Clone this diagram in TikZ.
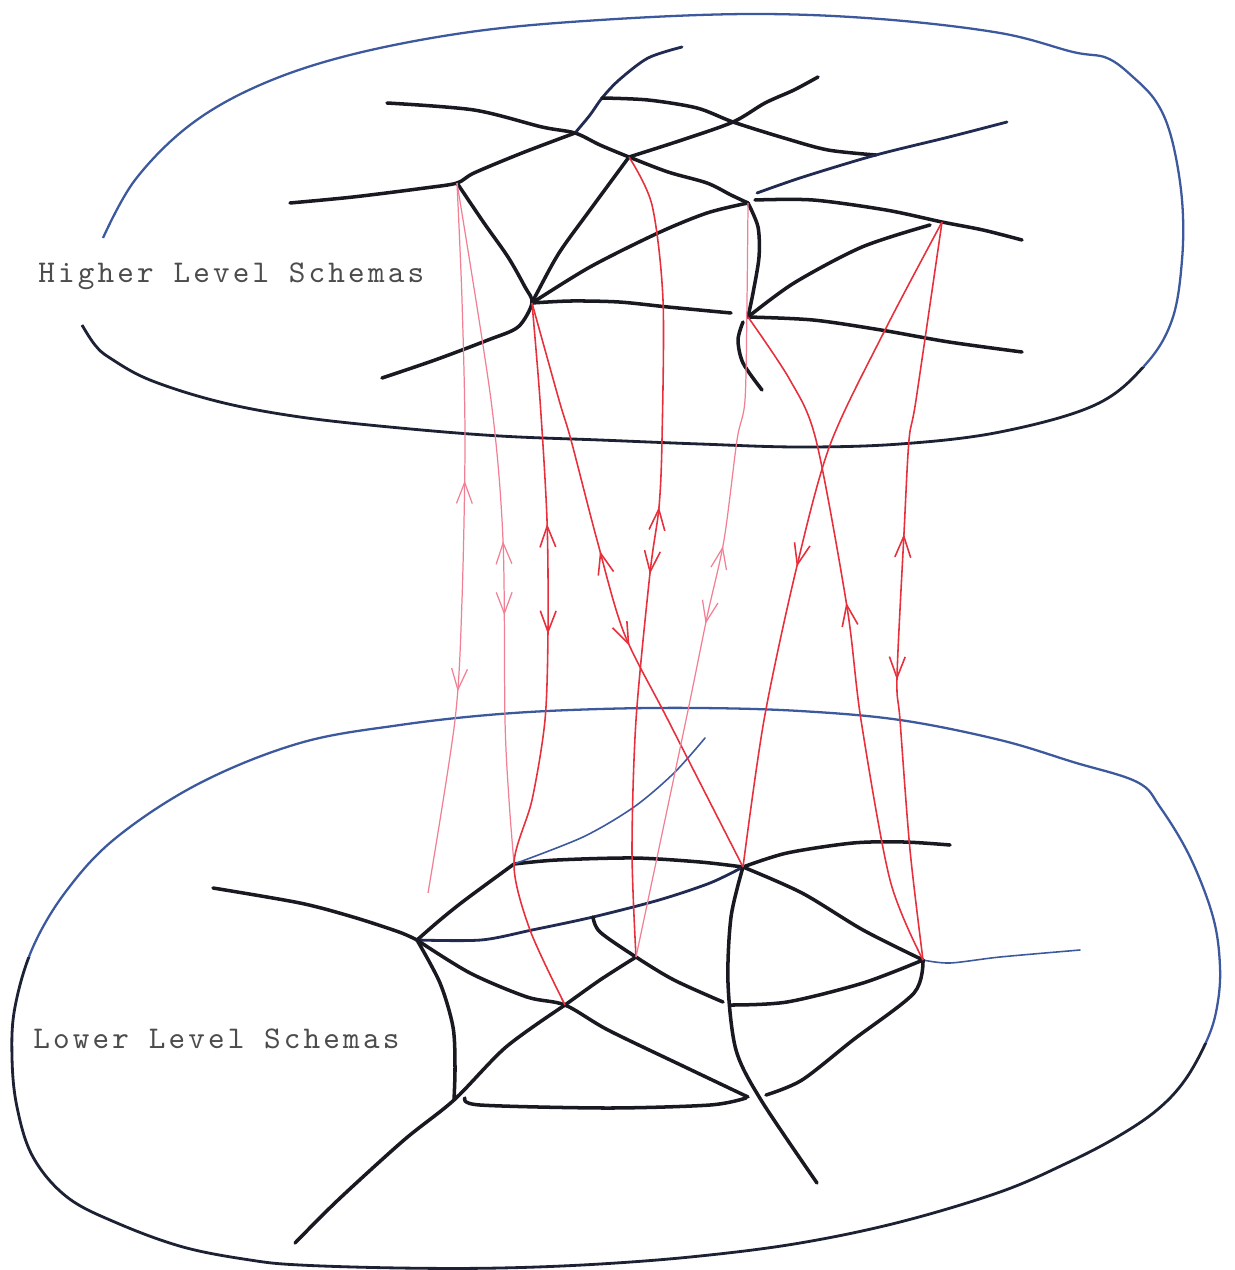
\documentclass[tikz,border=0pt]{standalone}
\usepackage{fontspec}
\newfontfamily\schemafont{lmmono10-regular.otf}[LetterSpace=10]
\usepackage{tkz-euclide}
\usetikzlibrary{arrows.meta,decorations.markings}
\definecolor{InkClr}{rgb}{0.1,0.1,0.13}
\definecolor{InkBlue}{rgb}{0.13,0.17,0.32}
\definecolor{RimClr}{rgb}{0.24,0.35,0.62}
\definecolor{RimDark}{rgb}{0.11,0.13,0.2}
\definecolor{LinkClr}{rgb}{0.91,0.19,0.24}
\definecolor{PaleClr}{rgb}{0.95,0.5,0.58}
\definecolor{TextClr}{rgb}{0.3,0.3,0.3}
\tikzset{
  ink/.style={line width=2pt,color=InkClr,line cap=round,line join=round},
  inkblue/.style={ink,color=InkBlue,line width=1.6pt},
  thinblue/.style={line width=.9pt,color=RimClr,line cap=round},
  rim/.style={line width=1.3pt,color=RimClr},
  rimdark/.style={line width=1.6pt,color=RimDark},
  link/.style={line width=.9pt,color=LinkClr},
  palelink/.style={line width=.7pt,color=PaleClr},
  barb/.tip={Straight Barb[length=12pt,width=9pt]},
  updn/.style 2 args={postaction={decorate,decoration={markings,
      mark=at position #1 with {\arrowreversed{barb}},
      mark=at position #2 with {\arrow{barb}}}}},
  uponly/.style={postaction={decorate,decoration={markings,
      mark=at position #1 with {\arrowreversed{barb}}}}},
  dnonly/.style={postaction={decorate,decoration={markings,
      mark=at position #1 with {\arrow{barb}}}}},
  schema/.style={font=\schemafont\fontsize{18}{20}\selectfont,
      text=TextClr,inner sep=0pt,anchor=base west}}
% outlines of the two levels
\newcommand\UpperRim{plot[smooth,tension=.6] coordinates {(103,238) (135,180)
  (190,125) (260,85) (350,55) (470,32) (600,20) (750,14) (880,19) (1000,33)
  (1073,52) (1107,58) (1133,77) (1157,103) (1172,140) (1182,200) (1182,260)
  (1172,320) (1145,365) (1095,405) (1000,432) (900,444) (800,447) (700,444)
  (600,440) (500,436) (400,428) (300,417) (220,402) (150,380) (110,358)
  (95,345) (82,325)}}
\newcommand\LowerRim{plot[smooth cycle,tension=.6] coordinates {(33,947)
  (67,890) (117,837) (200,783) (300,743) (400,725) (500,714) (600,709)
  (700,708) (800,711) (900,720) (1000,740) (1073,762) (1137,782) (1160,807)
  (1190,857) (1213,917) (1220,967) (1217,1007) (1207,1040) (1185,1080)
  (1157,1110) (1117,1137) (1067,1163) (1000,1192) (900,1222) (800,1243)
  (700,1256) (600,1264) (500,1268) (400,1268) (300,1265) (250,1260)
  (183,1247) (117,1223) (67,1197) (33,1157) (17,1107) (12,1057) (15,1007)}}

\begin{document}
\begin{tikzpicture}[x=0.02cm,y=-0.02cm]
\fill[white] (0,0) rectangle (1234,1270);
\useasboundingbox (0,0) rectangle (1234,1270);

% higher level
\begin{scope}
  \clip (0,0) -- (1234,0) -- (1234,372) -- (0,300) -- cycle;
  \draw[rim] \UpperRim;
\end{scope}
\begin{scope}
  \clip (0,300) -- (1234,372) -- (1234,640) -- (0,640) -- cycle;
  \draw[rimdark] \UpperRim;
\end{scope}

\tkzDefPoints{575/133/N1,733/122/N2,629/157/N3,748/203/N4,457/183/N5,532/303/N6,942/222/N7,748/317/N8}

\draw[ink] plot[smooth] coordinates {(387,103) (474,110) (542,127) (N1) (600,145) (N3) (668,172) (707,183) (731,195) (N4)};
\draw[inkblue] plot[smooth] coordinates {(N1) (590,115) (602,98) (619,80) (648,58) (682,47)};
\draw[ink] plot[smooth] coordinates {(602,98) (648,100) (697,108) (N2) (784,138) (828,150) (876,155)};
\draw[ink] plot[smooth] coordinates {(N3) (682,140) (N2) (765,103) (794,90) (818,77)};
\draw[ink] plot[smooth] coordinates {(N1) (522,153) (474,173) (N5) (425,188) (353,197) (290,203)};
\draw[ink] plot[smooth] coordinates {(N5) (484,223) (508,257) (525,287) (N6) (518,327) (488,340) (435,360) (382,378)};
\draw[ink] plot[smooth] coordinates {(N3) (590,210) (559,253) (537,293) (N6)};
\draw[ink] plot[smooth] coordinates {(N4) (707,213) (658,233) (590,267) (N6)};
\draw[ink] plot[smooth] coordinates {(N6) (571,301) (619,302) (668,307) (731,313)};
\draw[ink] plot[smooth] coordinates {(755,200) (813,200) (886,210) (N7) (983,230) (1022,240)};
\draw[inkblue] plot[smooth] coordinates {(757,193) (803,177) (876,155) (949,137) (1007,122)};
\draw[ink] plot[smooth] coordinates {(N4) (758,227) (759,257) (753,293) (N8)};
\draw[ink] plot[smooth] coordinates {(743,322) (738,340) (743,363) (762,390)};
\draw[ink] plot[smooth] coordinates {(N8) (794,283) (862,247) (930,225)};
\draw[ink] plot[smooth] coordinates {(N8) (813,320) (881,330) (949,342) (1022,352)};

\node[schema] (hls) at (38,283) {Higher Level Schemas};

% lower level
\begin{scope}
  \clip (0,640) -- (1234,640) -- (1234,1045) -- (0,955) -- cycle;
  \draw[rim] \LowerRim;
\end{scope}
\begin{scope}
  \clip (0,955) -- (1234,1045) -- (1234,1270) -- (0,1270) -- cycle;
  \draw[rimdark] \LowerRim;
\end{scope}

\tkzDefPoints{417/940/L1,514/864/L2,743/867/L3,636/957/L4,565/1005/L5,923/960/L6,454/1100/L7}

\draw[ink] plot[smooth] coordinates {(213,888) (300,903) (353,917) (399,932) (L1)};
\draw[ink] plot[smooth] coordinates {(L1) (440,920) (465,900) (L2)};
\draw[ink] plot[smooth] coordinates {(L2) (557,860) (634,858) (700,862) (L3)};
\draw[thinblue] plot[smooth] coordinates {(L2) (583,837) (634,807) (674,773) (705,738)};
\draw[ink] plot[smooth] coordinates {(L3) (787,853) (853,843) (904,842) (950,845)};
\draw[inkblue] plot[smooth] coordinates {(L1) (481,940) (532,930) (593,917) (659,900) (710,883) (L3)};
\draw[ink] plot[smooth] coordinates {(593,917) (600,932) (L4) (674,980) (723,1002)};
\draw[ink] plot[smooth] coordinates {(L4) (600,980) (L5)};
\draw[ink] plot[smooth] coordinates {(L1) (470,973) (527,997) (L5) (608,1030) (685,1067) (748,1097)};
\draw[ink] plot[smooth] coordinates {(L5) (506,1047) (L7) (404,1140) (338,1200) (295,1243)};
\draw[ink] plot[smooth] coordinates {(L1) (440,983) (453,1027) (455,1067) (L7)};
\draw[ink] plot[smooth] coordinates {(465,1098) (480,1105) (608,1108) (710,1105) (746,1098)};
\draw[ink] plot[smooth] coordinates {(L3) (731,917) (728,983) (736,1050) (761,1100) (817,1183)};
\draw[ink] plot[smooth] coordinates {(L3) (802,893) (863,930) (L6)};
\draw[thinblue] plot[smooth] coordinates {(L6) (950,963) (1000,957) (1080,950)};
\draw[ink] plot[smooth] coordinates {(L6) (914,993) (853,1040) (802,1080) (766,1095)};
\draw[ink] plot[smooth] coordinates {(L6) (863,983) (787,1002) (731,1005)};

\node[schema] (lls) at (33,1048) {Lower Level Schemas};

% links between levels
\tkzDefPoint(428,893){E1}
\draw[palelink,updn={.418}{.714}] plot[smooth] coordinates {(N5) (462,300) (465,440) (462,600) (455,720) (E1)};
\draw[palelink,updn={.528}{.636}] plot[smooth] coordinates {(N5) (491,400) (503,540) (505,720) (509,800) (L2)};
\draw[link,updn={.309}{.463}] plot[smooth] coordinates {(N6) (540,400) (547,520) (548,630) (545,720) (532,800) (L2) (530,930) (L5)};
\draw[link,updn={.425}{.589}] plot[smooth] coordinates {(N6) (559,400) (571,440) (597,540) (624,633) (668,720) (L3)};
\draw[link,updn={.441}{.525}] plot[smooth] coordinates {(N3) (652,205) (663,300) (662,440) (659,507) (650,573) (636,720) (632,850) (L4)};
\draw[palelink,updn={.451}{.555}] plot[smooth] coordinates {(N4) (747,300) (745,400) (737,440) (724,540) (707,617) (686,720) (L4)};
\draw[link,dnonly={.552}] plot[smooth] coordinates {(N7) (885,330) (830,445) (796,570) (764,720) (L3)};
\draw[link,uponly={.455}] plot[smooth] coordinates {(N8) (790,380) (816,440) (847,607) (861,720) (890,880) (L6)};
\draw[link,updn={.424}{.621}] plot[smooth] coordinates {(N7) (916,400) (909,440) (904,533) (897,677) (900,720) (910,850) (L6)};

\end{tikzpicture}
\end{document}
